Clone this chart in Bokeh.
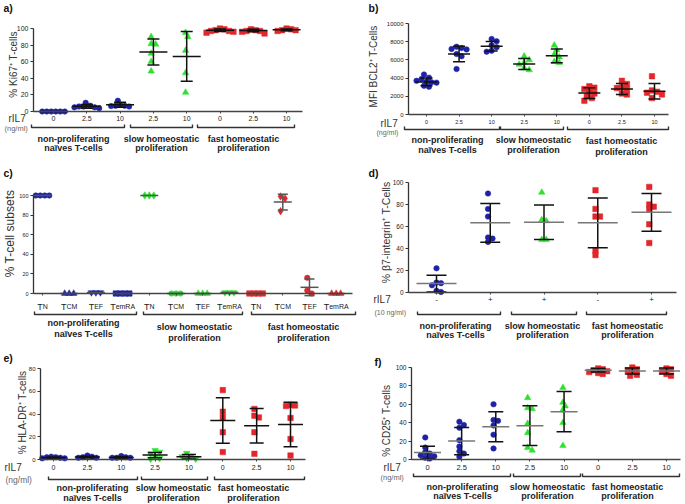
import math
from bokeh.plotting import figure
from bokeh.models import Range1d, LinearAxis, FixedTicker
from bokeh.layouts import column, row
from bokeh.embed import file_html
from bokeh.resources import INLINE
from bokeh.core.properties import value

FONT = "Liberation Sans"
BLUE, GREEN, RED = "#1f22a6", "#2fe02f", "#e3262b"

# ------------------------------------------------------------------ data
GROUP_LINES = [["non-proliferating", "naïves T-cells"],
               ["slow homeostatic", "proliferation"],
               ["fast homeostatic", "proliferation"]]

# a) Ki67+
A_TICKS = ["0", "2.5", "10", "2.5", "10", "0", "2.5", "10"]
A_GROUPS = [0, 0, 0, 1, 1, 2, 2, 2]
A_POINTS = [[0, 0, 0, 0, 0, 0], [10.5, 7, 6, 6, 5, 5, 4], [13, 8, 7, 7, 6.5, 6],
            [90, 81.5, 81, 70, 60, 48.5], [95, 90, 73.5, 46.5, 23],
            [100, 99, 98, 97, 97, 96, 95], [99, 98, 97, 97, 96, 94], [100, 99, 98, 98, 97]]
A_MEAN = [0, 6.2, 8, 71.6, 66.4, 98, 97.6, 98.4]
A_SD = [0, 2.2, 3, 15.6, 30, 1.5, 1.5, 1]

# b) MFI BCL2+
B_TICKS = ["0", "2.5", "10", "2.5", "10", "0", "2.5", "10"]
B_GROUPS = [0, 0, 0, 1, 1, 2, 2, 2]
B_POINTS = [[4400, 4050, 3900, 3700, 3600, 3550, 3500, 3150, 3050],
            [7450, 7300, 7200, 7150, 6650, 6400, 5000],
            [8300, 8050, 7600, 7400, 7000, 6900],
            [6400, 6000, 5700, 5500, 5100, 4900],
            [7600, 7100, 6600, 6300, 5800, 5700],
            [3100, 2950, 2800, 2500, 2300, 2000, 1800, 1500],
            [3700, 3350, 3000, 2900, 2800, 2300, 2200],
            [4200, 2650, 2500, 2400, 2200, 1800]]
B_MEAN = [3580, 6650, 7500, 5550, 6450, 2350, 2800, 2550]
B_SD = [420, 850, 530, 600, 750, 580, 600, 850]

# c) T-cell subsets
C_SUFFIX = ["N", "CM", "EF", "emRA"] * 3
C_GROUPS = [0] * 4 + [1] * 4 + [2] * 4
C_POINTS = [[100, 100, 100, 100], [0, 0, 0], [1, 1, 1], [0, 0, 0, 0],
            [100, 100, 100], [0, 0, 0], [0, 0, 0], [1, 1, 1],
            [0, 0, 0, 0], [99, 97, 84], [16, 3, 0], [0, 0, 0]]
C_MEAN = [100, 0, 1, 0, 100, 0, 0, 1, 0, 93.3, 6.3, 0]
C_SD = [0, 0, 0, 0, 0, 0, 0, 0, 0, 8.1, 8.5, 0]

# d) beta7-integrin+
D_TICKS = ["-", "+", "+", "-", "+"]
D_GROUPS = [0, 0, 1, 2, 2]
D_POINTS = [[22, 9, 8.5, 6.5, 1.5, 0.5], [90, 76, 69, 50, 49, 46], [91, 66, 65, 48, 48],
            [93, 76, 69, 69, 38, 34], [96, 80, 78, 76, 62, 45]]
D_MEAN = [8.1, 63.3, 63.9, 63.3, 72.9]
D_SD = [7.6, 17.6, 15.7, 22.6, 17.2]

# e) HLA-DR+
E_TICKS = ["0", "2.5", "10", "2.5", "10", "0", "2.5", "10"]
E_GROUPS = [0, 0, 0, 1, 1, 2, 2, 2]
E_POINTS = [[2.5, 2, 2, 1.5, 1, 1], [3.5, 2.5, 2, 1.5, 1.5], [3, 2, 1.5, 1.5, 1.5],
            [8, 6.5, 5, 2.5, 1, 0.5], [5.5, 3, 2.5, 1, 0.5],
            [61, 42, 37, 24, 6.5], [44.5, 38.5, 37, 24, 5], [48, 47.5, 47, 36.5, 18, 3.5]]
E_MEAN = [1.5, 2.1, 1.8, 3.9, 2.5, 34.3, 29.7, 30.8]
E_SD = [0.6, 0.8, 0.6, 2.3, 2.0, 20, 15.2, 19.5]

# f) CD25+
F_TICKS = ["0", "2.5", "10", "2.5", "10", "0", "2.5", "10"]
F_GROUPS = [0, 0, 0, 1, 1, 2, 2, 2]
F_POINTS = [[24, 13, 8, 6.5, 4.5, 3.5, 2, 1], [41, 37.5, 34.5, 21, 14, 9, 6.5, 3],
            [60, 43, 42, 37, 27, 12], [67, 56, 55, 39, 29, 13, 10], [78, 62, 58, 54, 40, 15],
            [99, 98, 97, 96, 95, 94, 93], [100, 98, 97, 95, 92, 91], [99, 98, 96, 93, 91]]
F_MEAN = [7.5, 20, 35.6, 36.7, 52, 97, 96.2, 96.2]
F_SD = [7, 14.9, 16.4, 21.6, 21.8, 2, 3.3, 3.2]

# ------------------------------------------------------------------ styles
GROUP_COLORS = [BLUE, GREEN, RED]
STD_MARKERS = ["circle", "triangle", "square"]
E_MARKERS = ["circle", "inverted_triangle", "square"]
C_MARKERS = ["circle", "triangle", "inverted_triangle", "square",
             "diamond", "circle", "triangle", "inverted_triangle",
             "square", "diamond", "circle", "triangle"]
MSIZE = {"circle": 5.5, "triangle": 6.5, "inverted_triangle": 6.5, "square": 5.5, "diamond": 7.5}
AW = {"T": 0.611, "N": 0.722, "C": 0.722, "M": 0.833, "E": 0.667, "F": 0.611,
      "e": 0.556, "m": 0.833, "R": 0.722, "A": 0.667}


def beeswarm(vals, px_per_unit, d):
    order = sorted(range(len(vals)), key=lambda i: -vals[i])
    placed, offs = [], [0.0] * len(vals)
    cands = [0.0]
    for j in range(1, 60):
        cands += [j * d * 0.5, -j * d * 0.5]
    for i in order:
        py = vals[i] * px_per_unit
        for c in cands:
            if all((c - o) ** 2 + (py - q) ** 2 >= (d * 0.95) ** 2 for o, q in placed):
                break
        placed.append((c, py))
        offs[i] = c
    mid = (min(offs) + max(offs)) / 2
    return [o - mid for o in offs]


def txt(p, x, y, s, size, bold=False, align="center", color="#222", baseline="middle", angle=0.0):
    p.text(x=[x], y=[y], text=[s], text_font=value(FONT), text_font_size=size,
           text_font_style="bold" if bold else "normal", text_align=align,
           text_baseline=baseline, text_color=color, angle=angle)


def build(cfg):
    L, T, W, H = cfg["box"]
    c0, st = cfg["cat0"], cfg["step"]
    y0, yt, yv = cfg["y0"], cfg["ytop"], cfg["ytopv"]
    k = yv / (y0 - yt)

    def fx(px):
        return 1 + (px - c0) / st

    def fy(py):
        return (y0 - py) * k

    p = figure(width=W, height=H, x_range=Range1d(fx(L), fx(L + W)),
               y_range=Range1d(fy(T + H), fy(T)),
               x_axis_type=None, y_axis_type=None, toolbar_location=None,
               output_backend="svg", min_border_left=0, min_border_right=0,
               min_border_top=0, min_border_bottom=0, outline_line_color=None,
               background_fill_color="white", border_fill_color="white")

    points, means, sds = cfg["points"], cfg["mean"], cfg["sd"]
    n = len(points)
    for i in range(n):
        mk = cfg["markers"][i]
        col = GROUP_COLORS[cfg["groups"][i]]
        offs = beeswarm(points[i], 1 / k, cfg.get("swarm", 4.5))
        xs = [i + 1 + o / st for o in offs]
        p.scatter(xs, points[i], marker=mk, size=MSIZE[mk], fill_color=col,
                  line_color=col, line_width=0.5)
    cats = list(range(1, n + 1))
    ch, mh = cfg["cap"] / st, cfg["mhalf"] / st
    ecats = [c for c, sd in zip(cats, sds) if sd > 0]
    emean = [m for m, sd in zip(means, sds) if sd > 0]
    esd = [sd for sd in sds if sd > 0]
    lo = [m - sd for m, sd in zip(emean, esd)]
    hi = [m + sd for m, sd in zip(emean, esd)]
    ec = cfg["err_color"]
    if ecats:
        p.segment(x0=ecats, y0=lo, x1=ecats, y1=hi, line_color=ec, line_width=1.5)
        p.segment(x0=[c - ch for c in ecats], y0=lo, x1=[c + ch for c in ecats], y1=lo,
                  line_color=ec, line_width=1.5)
        p.segment(x0=[c - ch for c in ecats], y0=hi, x1=[c + ch for c in ecats], y1=hi,
                  line_color=ec, line_width=1.5)
    p.segment(x0=[c - mh for c in cats], y0=means, x1=[c + mh for c in cats], y1=means,
              line_color=cfg["mean_color"], line_width=1.5)

    # axes
    yax = LinearAxis(fixed_location=fx(cfg["yaxis_px"]), bounds=(0, cfg["ymax"]),
                     ticker=FixedTicker(ticks=cfg["yticks"]),
                     major_label_text_font=FONT, major_label_text_font_size=cfg["ytick_size"],
                     major_label_text_color="#222", major_label_standoff=2,
                     major_tick_out=3, major_tick_in=0, minor_tick_out=0, minor_tick_in=0,
                     axis_line_color="#333", axis_line_width=1.3,
                     major_tick_line_color="#333", major_tick_line_width=1.2)
    p.add_layout(yax, "left")
    xticks = cfg.get("xticks")
    overrides = {i + 1: (xticks[i] if xticks else "") for i in range(n)}
    xax = LinearAxis(fixed_location=0, bounds=(fx(cfg["yaxis_px"]), fx(cfg["xend_px"])),
                     ticker=FixedTicker(ticks=cats), major_label_overrides=overrides,
                     major_label_text_font=FONT, major_label_text_font_size=cfg.get("xtick_size", "7px"),
                     major_label_text_color="#222", major_label_standoff=cfg.get("xstand", 2),
                     major_tick_out=2, major_tick_in=0, minor_tick_out=0, minor_tick_in=0,
                     axis_line_color="#444", axis_line_width=1.5,
                     major_tick_line_color="#444", major_tick_line_width=1)
    p.add_layout(xax, "below")

    # y axis title
    lx, ly, lsize = cfg["ylabel_pos"]
    txt(p, fx(lx), fy(ly), cfg["ylabel"], lsize, color="#333", angle=math.pi / 2)

    # brackets
    yb = cfg["bracket_y"]
    bxs, bys = [], []
    for a, b in cfg["brackets"]:
        bxs.append([fx(a), fx(a), fx(b), fx(b)])
        bys.append([fy(yb - 3), fy(yb), fy(yb), fy(yb - 3)])
    p.multi_line(bxs, bys, line_color="#333", line_width=1.4)

    for g, cx in enumerate(cfg["group_cx"]):
        for li, line in enumerate(GROUP_LINES[g]):
            txt(p, fx(cx), fy(cfg["group_y"][g][li]), line, "9px", bold=True)

    if cfg.get("ril7"):
        rx, ry = cfg["ril7"]
        txt(p, fx(rx), fy(ry), "rIL7", "10px", align="left", color="#333")
        ux, uy, usize, utext = cfg["unit"]
        txt(p, fx(ux), fy(uy), utext, usize, align="left", color="#666")

    px_, py_ = cfg["letter_pos"]
    txt(p, fx(px_), fy(py_), cfg["letter"], "10.5px", bold=True, align="left", color="#111")
    return p, fx, fy


base_a = dict(box=(0, 0, 358, 168), cat0=53, step=33.3, y0=111, ytop=28, ytopv=100,
              points=A_POINTS, mean=A_MEAN, sd=A_SD, groups=A_GROUPS,
              markers=[STD_MARKERS[g] for g in A_GROUPS], xticks=A_TICKS,
              cap=6, mhalf=14, err_color="#111", mean_color="#111",
              yaxis_px=33, xend_px=302, ymax=100, yticks=[0, 20, 40, 60, 80, 100],
              ylabel="% Ki67⁺ T-cells", ylabel_pos=(13, 64, "10px"),
              ytick_size="7px", xtick_size="7px", xstand=2,
              bracket_y=127, brackets=[(31, 124), (130, 192), (197, 294)],
              group_cx=[73, 161, 243], group_y=[(138, 147), (138, 147), (138, 147)],
              ril7=(8, 118), unit=(4, 128, "7.5px", "(ng/ml)"),
              letter="a)", letter_pos=(3, 7))

base_b = dict(box=(358, 0, 326, 168), cat0=426, step=32.57, y0=114, ytop=23, ytopv=10000,
              points=B_POINTS, mean=B_MEAN, sd=B_SD, groups=B_GROUPS,
              markers=[STD_MARKERS[g] for g in B_GROUPS], xticks=B_TICKS,
              cap=6, mhalf=11, err_color="#111", mean_color="#111",
              yaxis_px=408, xend_px=668, ymax=10000,
              yticks=[0, 2000, 4000, 6000, 8000, 10000],
              ylabel="MFI BCL2⁺ T-Cells", ylabel_pos=(373, 66, "10px"),
              ytick_size="6px", xtick_size="5.5px", xstand=3,
              bracket_y=129, brackets=[(404, 499), (500, 563), (567, 668)],
              group_cx=[447, 533, 621], group_y=[(139, 149), (139, 149), (140, 151)],
              ril7=(380, 123), unit=(376, 132, "7px", "(ng/ml)"),
              letter="b)", letter_pos=(368, 7), swarm=5)

base_c = dict(box=(0, 168, 358, 176), cat0=42, step=26.7, y0=293, ytop=195, ytopv=100,
              points=C_POINTS, mean=C_MEAN, sd=C_SD, groups=C_GROUPS,
              markers=C_MARKERS, xticks=None,
              cap=5, mhalf=9, err_color="#555", mean_color="#555",
              yaxis_px=33, xend_px=352, ymax=100, yticks=[0, 20, 40, 60, 80, 100],
              ylabel="% T-cell subsets", ylabel_pos=(9, 233, "12px"),
              ytick_size="5.5px",
              bracket_y=314, brackets=[(34, 136), (143, 242), (251, 355)],
              group_cx=[83, 194, 303], group_y=[(322, 333), (326, 337), (326, 337)],
              ril7=None,
              letter="c)", letter_pos=(3, 172), swarm=4.5)

base_d = dict(box=(358, 168, 326, 176), cat0=436, step=53.75, y0=292, ytop=182, ytopv=100,
              points=D_POINTS, mean=D_MEAN, sd=D_SD, groups=D_GROUPS,
              markers=[STD_MARKERS[g] for g in D_GROUPS], xticks=D_TICKS,
              cap=10, mhalf=20, err_color="#111", mean_color="#777",
              yaxis_px=408, xend_px=676, ymax=100, yticks=[0, 20, 40, 60, 80, 100],
              ylabel="% β7-integrin⁺ T-Cells", ylabel_pos=(385, 232, "10.5px"),
              ytick_size="6.5px", xtick_size="8px", xstand=2,
              bracket_y=314, brackets=[(417, 500), (511, 576), (586, 666)],
              group_cx=[455, 542, 627], group_y=[(325, 334), (325, 334), (325, 334)],
              ril7=(373, 299), unit=(374, 312, "7px", "(10 ng/ml)"),
              letter="d)", letter_pos=(368, 172))

base_e = dict(box=(0, 344, 358, 159), cat0=53, step=33.86, y0=459, ytop=368, ytopv=80,
              points=E_POINTS, mean=E_MEAN, sd=E_SD, groups=E_GROUPS,
              markers=[E_MARKERS[g] for g in E_GROUPS], xticks=E_TICKS,
              cap=7, mhalf=12.5, err_color="#111", mean_color="#111",
              yaxis_px=40, xend_px=305, ymax=80, yticks=[0, 20, 40, 60, 80],
              ylabel="% HLA-DR⁺ T-cells", ylabel_pos=(22, 412, "10px"),
              ytick_size="6px", xtick_size="7px", xstand=3,
              bracket_y=479, brackets=[(48, 137), (141, 207), (214, 304)],
              group_cx=[92, 173, 253], group_y=[(487, 497), (487, 497), (487, 497)],
              ril7=(4, 467), unit=(5, 479, "8.5px", "(ng/ml)"),
              letter="e)", letter_pos=(3, 357))

base_f = dict(box=(358, 344, 326, 159), cat0=427, step=34.14, y0=459, ytop=367, ytopv=100,
              points=F_POINTS, mean=F_MEAN, sd=F_SD, groups=F_GROUPS,
              markers=[STD_MARKERS[g] for g in F_GROUPS], xticks=F_TICKS,
              cap=7.5, mhalf=13.5, err_color="#111", mean_color="#777",
              yaxis_px=411, xend_px=680, ymax=100, yticks=[0, 20, 40, 60, 80, 100],
              ylabel="%  CD25⁺ T-cells", ylabel_pos=(386, 419, "10px"),
              ytick_size="6.5px", xtick_size="7.5px", xstand=3,
              bracket_y=476, brackets=[(413, 510), (513, 580), (582, 679)],
              group_cx=[462, 547, 627], group_y=[(486, 495), (486, 495), (486, 495)],
              ril7=(383, 467), unit=(380, 477, "7.5px", "(ng/ml)"),
              letter="f)", letter_pos=(374, 361))

pa, _, _ = build(base_a)
pb, _, _ = build(base_b)
pc, cfx, cfy = build(base_c)
pd, _, _ = build(base_d)
pe, _, _ = build(base_e)
pf, _, _ = build(base_f)

# subset tick labels for panel c: "T" + small-caps suffix
TSIZE, SSIZE = 9.0, 7.0
for i, suf in enumerate(C_SUFFIX):
    cx_px = 42 + i * 26.7
    wT = AW["T"] * TSIZE
    wS = sum(AW[ch] for ch in suf) * SSIZE
    left = cx_px - (wT + wS) / 2
    txt(pc, cfx(left), cfy(306), "T", "%gpx" % TSIZE, align="left", color="#222",
        baseline="alphabetic")
    txt(pc, cfx(left + wT), cfy(306), suf, "%gpx" % SSIZE, align="left", color="#222",
        baseline="alphabetic")

layout = column(row(pa, pb), row(pc, pd), row(pe, pf))
open("out.html", "w").write(file_html(layout, INLINE))
